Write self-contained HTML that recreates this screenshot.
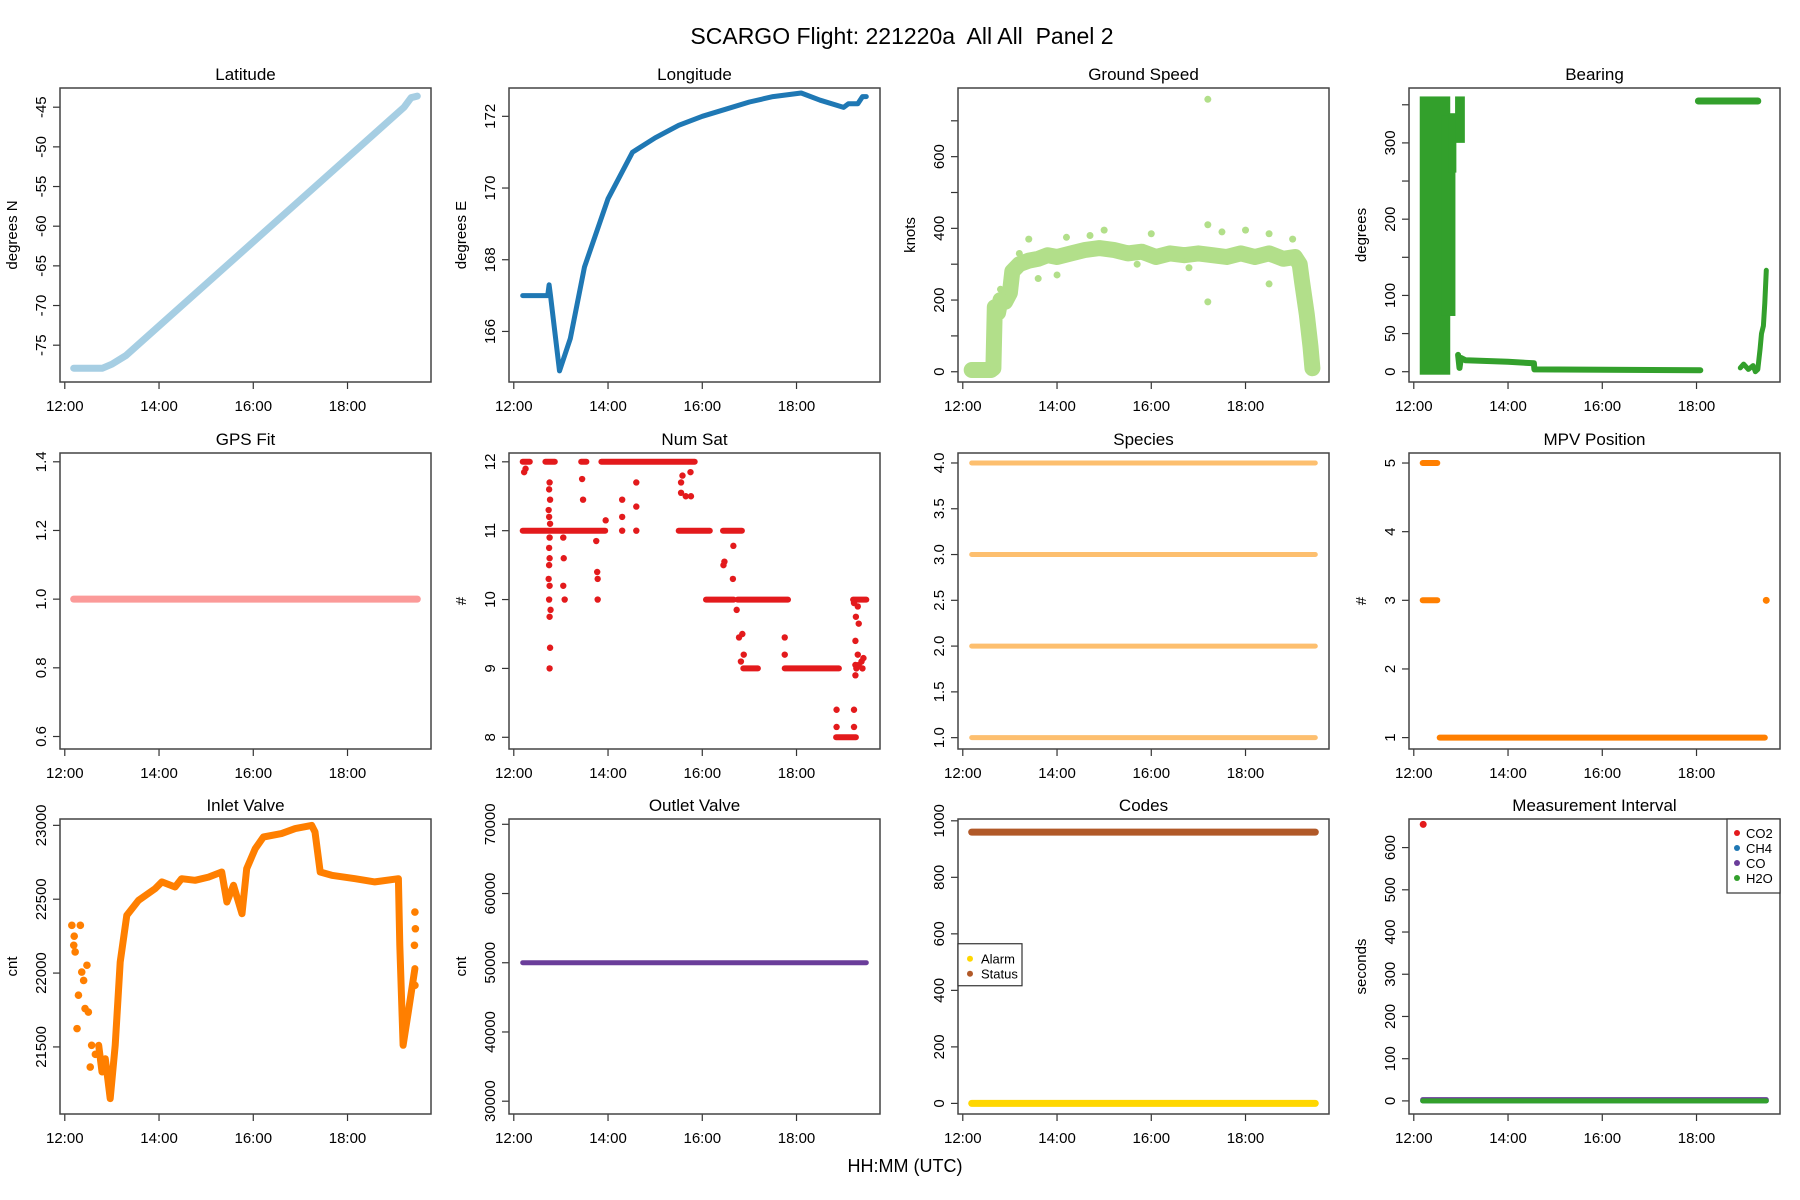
<!DOCTYPE html>
<html><head><meta charset="utf-8"><style>
html,body{margin:0;padding:0;background:#fff;}
svg{display:block;font-family:"Liberation Sans",Arial,sans-serif;}
</style></head><body>
<svg id="chart" width="1800" height="1200" viewBox="0 0 1800 1200" xmlns="http://www.w3.org/2000/svg">
<text x="902" y="44" font-size="23" text-anchor="middle" style="white-space:pre">SCARGO Flight: 221220a  All All  Panel 2</text>
<text x="905" y="1172" font-size="18" text-anchor="middle">HH:MM (UTC)</text>
</svg>
<script>
// ---------- data ----------
const xTickHours = [12,14,16,18];
const xTickLabels = ["12:00","14:00","16:00","18:00"];
const timeRange = [12.19, 19.48];

const latT = [12.19,12.8,13.0,13.3,19.2,19.35,19.48];
const latV = [-77.9,-77.9,-77.4,-76.3,-45.0,-43.8,-43.6];

const lonT = [12.19,12.72,12.75,12.78,12.97,13.2,13.5,14.0,14.52,15.0,15.5,16.0,16.5,17.0,17.5,18.1,18.5,19.0,19.1,19.3,19.4,19.48];
const lonV = [167,167,167.3,167,164.9,165.8,167.8,169.7,171.0,171.4,171.75,172.0,172.2,172.4,172.55,172.65,172.45,172.25,172.35,172.35,172.55,172.55];

const gsT = [12.19,12.6,12.65,12.68,12.75,12.8,12.9,13.0,13.05,13.2,13.4,13.6,13.8,14.0,14.3,14.6,14.9,15.2,15.5,15.8,16.1,16.4,16.7,17.0,17.3,17.6,17.9,18.2,18.5,18.8,19.05,19.15,19.2,19.3,19.38,19.42];
const gsV = [5,5,10,180,165,200,195,220,280,300,310,315,325,320,330,340,345,340,330,335,320,330,325,330,325,320,330,320,330,315,320,300,250,160,70,10];
const gsOutT = [17.2,17.2,16.8,18.5,13.6,14.0,13.2,15.7,13.4,14.2,15.0,16.0,17.2,17.5,18.0,18.5,19.0,14.7,12.8,13.0];
const gsOutV = [760,195,290,245,260,270,330,300,370,375,395,385,410,390,395,385,370,380,230,255];

const brBandT0 = [12.19,12.65,12.79,12.94];
const brBandT1 = [12.71,12.82,12.84,13.02];
const brBandLo = [0,77,265,304];
const brBandHi = [357,332,335,357];
const brLowT = [12.94,12.97,13.0,13.1,14.0,14.55,14.56,18.08];
const brLowV = [22,5,18,15,13,11,3,2];
const brTopT = [18.04,19.3];
const brTopV = [355,355];
const brEndT = [18.93,19.0,19.1,19.2,19.25,19.3,19.35,19.38,19.42,19.45,19.48];
const brEndV = [5,10,3,8,0,3,30,50,60,90,133];

const gpsFit = [1.0];

const nsRunLevel = [12,12,12,12,11,11,11,10,10,10,9,9,8];
const nsRunT0 = [12.19,12.67,13.43,13.86,12.19,15.5,16.44,16.08,16.75,19.2,16.87,17.75,18.84];
const nsRunT1 = [12.34,12.87,13.54,15.84,13.94,16.16,16.84,16.67,17.82,19.48,17.18,18.9,19.26];
const nsPtT = [12.22,12.25,12.76,12.75,12.77,12.74,12.75,12.77,12.76,12.75,12.76,12.75,12.74,12.76,12.75,12.78,12.76,12.77,12.76,13.05,13.06,13.05,13.08,13.45,13.47,13.75,13.77,13.78,13.78,13.95,14.3,14.3,14.3,14.6,14.6,14.6,15.55,15.58,15.55,15.65,15.76,15.75,16.45,16.47,16.66,16.65,16.73,16.78,16.85,16.88,16.82,17.75,17.75,18.85,18.85,19.22,19.26,19.25,19.3,19.32,19.3,19.25,19.27,19.25,19.38,19.4,19.32,19.42,19.22,19.22];
const nsPtV = [11.85,11.9,11.7,11.6,11.45,11.3,11.2,11.1,10.9,10.75,10.6,10.5,10.3,10.2,10.0,9.85,9.75,9.3,9.0,10.9,10.6,10.2,10.0,11.75,11.45,10.85,10.4,10.3,10.0,11.15,11.45,11.2,11.0,11.7,11.35,11.0,11.7,11.8,11.55,11.5,11.5,11.85,10.5,10.55,10.78,10.3,9.85,9.45,9.5,9.2,9.1,9.45,9.2,8.4,8.15,9.95,9.75,9.4,9.9,9.65,9.2,9.05,9.0,8.9,9.1,9.0,9.05,9.15,8.4,8.15];

const speciesLevels = [1,2,3,4];

const mpvRunLevel = [5,3,1];
const mpvRunT0 = [12.19,12.19,12.55];
const mpvRunT1 = [12.5,12.5,19.45];
const mpvPtT = [19.48];
const mpvPtV = [3];

const inT = [12.72,12.79,12.86,12.963,13.07,13.175,13.317,13.564,13.917,14.06,14.34,14.48,14.765,15.05,15.33,15.44,15.58,15.76,15.86,16.04,16.215,16.6,16.89,17.24,17.31,17.42,17.665,18.16,18.58,19.08,19.11,19.18,19.29,19.43];
const inV = [21511,21330,21420,21150,21511,22075,22391,22492,22571,22617,22583,22639,22628,22650,22684,22481,22594,22402,22707,22842,22921,22944,22978,23000,22955,22684,22662,22639,22617,22639,22188,21511,21737,22030];
const inPtT = [12.15,12.22,12.36,12.5,12.26,12.57,12.54,12.33,12.47,12.29,12.43,12.19,12.2,12.4,12.65,19.43,19.42,19.43,19.44];
const inPtV = [22323,22143,22007,21736,21624,21511,21364,22323,22053,21850,21760,22188,22250,21950,21450,22413,22188,21917,22300];

const outletV = [50000];

const codeSeries = ["Alarm","Status"];
const codeValues = [0,960];

const miSeries = ["CO2","CH4","CO","H2O"];
const miBase = [0,0,3,0];
const miOutT = [12.2];
const miOutV = [655];

// ---------- layout ----------
const NS="http://www.w3.org/2000/svg";
const svg=document.getElementById('chart');
const colL=[60,509,958,1409], colW=371;
const rowT=[88,453,819], rowB=[382,749,1114];
function mk(tag,attrs,parent){const e=document.createElementNS(NS,tag);for(const k in attrs)e.setAttribute(k,attrs[k]);(parent||svg).appendChild(e);return e;}
const pad=0.04*(timeRange[1]-timeRange[0]);
const xLo=timeRange[0]-pad, xHi=timeRange[1]+pad;

function panel(name,title,ylab,c,r,yTop,yBot,ticks,labels){
  const g=mk('g',{});
  
  
  const L=colL[c],R=L+colW,T=rowT[r],B=rowB[r];
  const p={g,L,R,T,B,
    sx:t=>L+(t-xLo)/(xHi-xLo)*(R-L),
    sy:v=>T+(yTop-v)/(yTop-yBot)*(B-T)};
  const tt=mk('text',{x:(L+R)/2,y:T-8,'font-size':17,'text-anchor':'middle'},g);
  tt.textContent=title;
  
  
  const yl=mk('text',{transform:`translate(${L-43},${(T+B)/2}) rotate(-90)`,'font-size':15,'text-anchor':'middle'},g);
  yl.textContent=ylab;
  
  
  ticks.forEach(v=>{const y=p.sy(v);mk('line',{x1:L-7,x2:L,y1:y,y2:y,stroke:'#333','stroke-width':1.2},g);});
  labels.forEach(v=>{const y=p.sy(v);const t=mk('text',{transform:`translate(${L-14},${y}) rotate(-90)`,'font-size':15,'text-anchor':'middle'},g);t.textContent=String(v);
    
    });
  xTickHours.forEach((h,i)=>{const x=p.sx(h);mk('line',{x1:x,x2:x,y1:B,y2:B+7,stroke:'#333','stroke-width':1.2},g);
    const t=mk('text',{x:x,y:B+29,'font-size':15,'text-anchor':'middle'},g);t.textContent=xTickLabels[i];
    
    });
  p.plot=mk('g',{},g);
  mk('rect',{x:L,y:T,width:colW,height:B-T,fill:'none',stroke:'#444','stroke-width':1.5},g);
  return p;
}
function line(p,ts,vs,col,w,nm){const pts=ts.map((t,i)=>p.sx(t).toFixed(1)+','+p.sy(vs[i]).toFixed(1)).join(' ');
  const e=mk('polyline',{points:pts,fill:'none',stroke:col,'stroke-width':w,'stroke-linejoin':'round','stroke-linecap':'round'},p.plot);
  
  return e;}
function dots(p,ts,vs,col,rad,nm){ts.forEach((t,i)=>{const e=mk('circle',{cx:p.sx(t),cy:p.sy(vs[i]),r:rad,fill:col},p.plot);
  
  });}

// Latitude
let p=panel('latitude','Latitude','degrees N',0,0,-42.58,-79.64,[-75,-70,-65,-60,-55,-50,-45],[-75,-70,-65,-60,-55,-50,-45]);
line(p,latT,latV,'#a6cee3',7,'latitude-line');
// Longitude
p=panel('longitude','Longitude','degrees E',1,0,172.79,164.59,[166,168,170,172],[166,168,170,172]);
line(p,lonT,lonV,'#1f78b4',5,'longitude-line');
// Ground speed
p=panel('ground-speed','Ground Speed','knots',2,0,791.5,-28.6,[0,100,200,300,400,500,600,700],[0,200,400,600]);
line(p,gsT,gsV,'#b2df8a',16,'ground-speed-band');
line(p,gsT,gsV,'#b2df8a',6,'ground-speed-line');
dots(p,gsOutT,gsOutV,'#b2df8a',3.5,'ground-speed-outlier');
// Bearing
p=panel('bearing','Bearing','degrees',3,0,372,-13.5,[0,50,100,150,200,250,300,350],[0,50,100,200,300]);
brBandT0.forEach((t0,i)=>{const x0=p.sx(t0)-3,x1=p.sx(brBandT1[i])+3,y0=p.sy(brBandHi[i])-3,y1=p.sy(brBandLo[i])+3;
  const e=mk('rect',{x:x0,y:y0,width:x1-x0,height:y1-y0,fill:'#33a02c'},p.plot);
  
  });
line(p,brLowT,brLowV,'#33a02c',6,'bearing-low-line');
line(p,brTopT,brTopV,'#33a02c',7,'bearing-top-line');
line(p,brEndT,brEndV,'#33a02c',5,'bearing-end-line');
// GPS fit
p=panel('gps-fit','GPS Fit','',0,1,1.4256,0.5636,[0.6,0.8,1.0,1.2,1.4],[0.6,0.8,1.0,1.2,1.4]);
p.g.querySelectorAll('text').forEach(t=>{if(/^1$/.test(t.textContent))t.textContent='1.0';});
line(p,timeRange,[gpsFit[0],gpsFit[0]],'#fb9a99',7,'gps-fit-line');
// Num sat
p=panel('num-sat','Num Sat','#',1,1,12.128,7.83,[8,9,10,11,12],[8,9,10,11,12]);
nsRunLevel.forEach((v,i)=>line(p,[nsRunT0[i],nsRunT1[i]],[v,v],'#e31a1c',6,'num-sat-run'));
dots(p,nsPtT,nsPtV,'#e31a1c',3.2,'num-sat-point');
// Species
p=panel('species','Species','',2,1,4.109,0.876,[1,1.5,2,2.5,3,3.5,4],[1,1.5,2,2.5,3,3.5,4]);
p.g.querySelectorAll('text').forEach(t=>{if(/^[1-4]$/.test(t.textContent))t.textContent=t.textContent+'.0';});
speciesLevels.forEach(v=>line(p,timeRange,[v,v],'#fdbf6f',5,'species-line'));
// MPV
p=panel('mpv-position','MPV Position','#',3,1,5.146,0.834,[1,2,3,4,5],[1,2,3,4,5]);
mpvRunLevel.forEach((v,i)=>line(p,[mpvRunT0[i],mpvRunT1[i]],[v,v],'#ff7f00',6,'mpv-run'));
dots(p,mpvPtT,mpvPtV,'#ff7f00',3.5,'mpv-point');
// Inlet
p=panel('inlet-valve','Inlet Valve','cnt',0,2,23043,21046,[21500,22000,22500,23000],[21500,22000,22500,23000]);
line(p,inT,inV,'#ff7f00',7,'inlet-valve-line');
dots(p,inPtT,inPtV,'#ff7f00',3.8,'inlet-valve-point');
// Outlet
p=panel('outlet-valve','Outlet Valve','cnt',1,2,70766,28150,[30000,40000,50000,60000,70000],[30000,40000,50000,60000,70000]);
line(p,timeRange,[outletV[0],outletV[0]],'#6a3d9a',5,'outlet-valve-line');
// Codes
p=panel('codes','Codes','',2,2,1006.4,-37.5,[0,200,400,600,800,1000],[0,200,400,600,800,1000]);
const codeCols=['#ffd700','#b15928'];
codeValues.forEach((v,i)=>line(p,timeRange,[v,v],codeCols[i],7,'codes-'+codeSeries[i].toLowerCase()+'-line'));
{const lg=mk('g',{},p.g);
 const lx=p.L, ly=p.sy(565);
 mk('rect',{x:lx,y:ly,width:64,height:42,fill:'#fff',stroke:'#333','stroke-width':1.2},lg);
 codeSeries.forEach((s,i)=>{mk('circle',{cx:lx+12,cy:ly+15+i*15,r:3,fill:codeCols[i]},lg);
  const t=mk('text',{x:lx+23,y:ly+20+i*15,'font-size':13},lg);t.textContent=s;
  });}
// Measurement interval
p=panel('measurement-interval','Measurement Interval','seconds',3,2,667.7,-31,[0,100,200,300,400,500,600],[0,100,200,300,400,500,600]);
const miCols=['#e31a1c','#1f78b4','#6a3d9a','#33a02c'];
[1,2,3].forEach(i=>line(p,timeRange,[miBase[i],miBase[i]],miCols[i],5,'mi-'+miSeries[i].toLowerCase()+'-line'));
dots(p,miOutT,miOutV,miCols[0],3.5,'mi-co2-point');
{const lg=mk('g',{},p.g);
 const lx=p.R-53, ly=p.T;
 mk('rect',{x:lx,y:ly,width:53,height:74,fill:'#fff',stroke:'#333','stroke-width':1.2},lg);
 miSeries.forEach((s,i)=>{mk('circle',{cx:lx+10,cy:ly+14+i*15,r:3,fill:miCols[i]},lg);
  const t=mk('text',{x:lx+19,y:ly+19+i*15,'font-size':13},lg);t.textContent=s;
  });}
</script>
</body></html>
